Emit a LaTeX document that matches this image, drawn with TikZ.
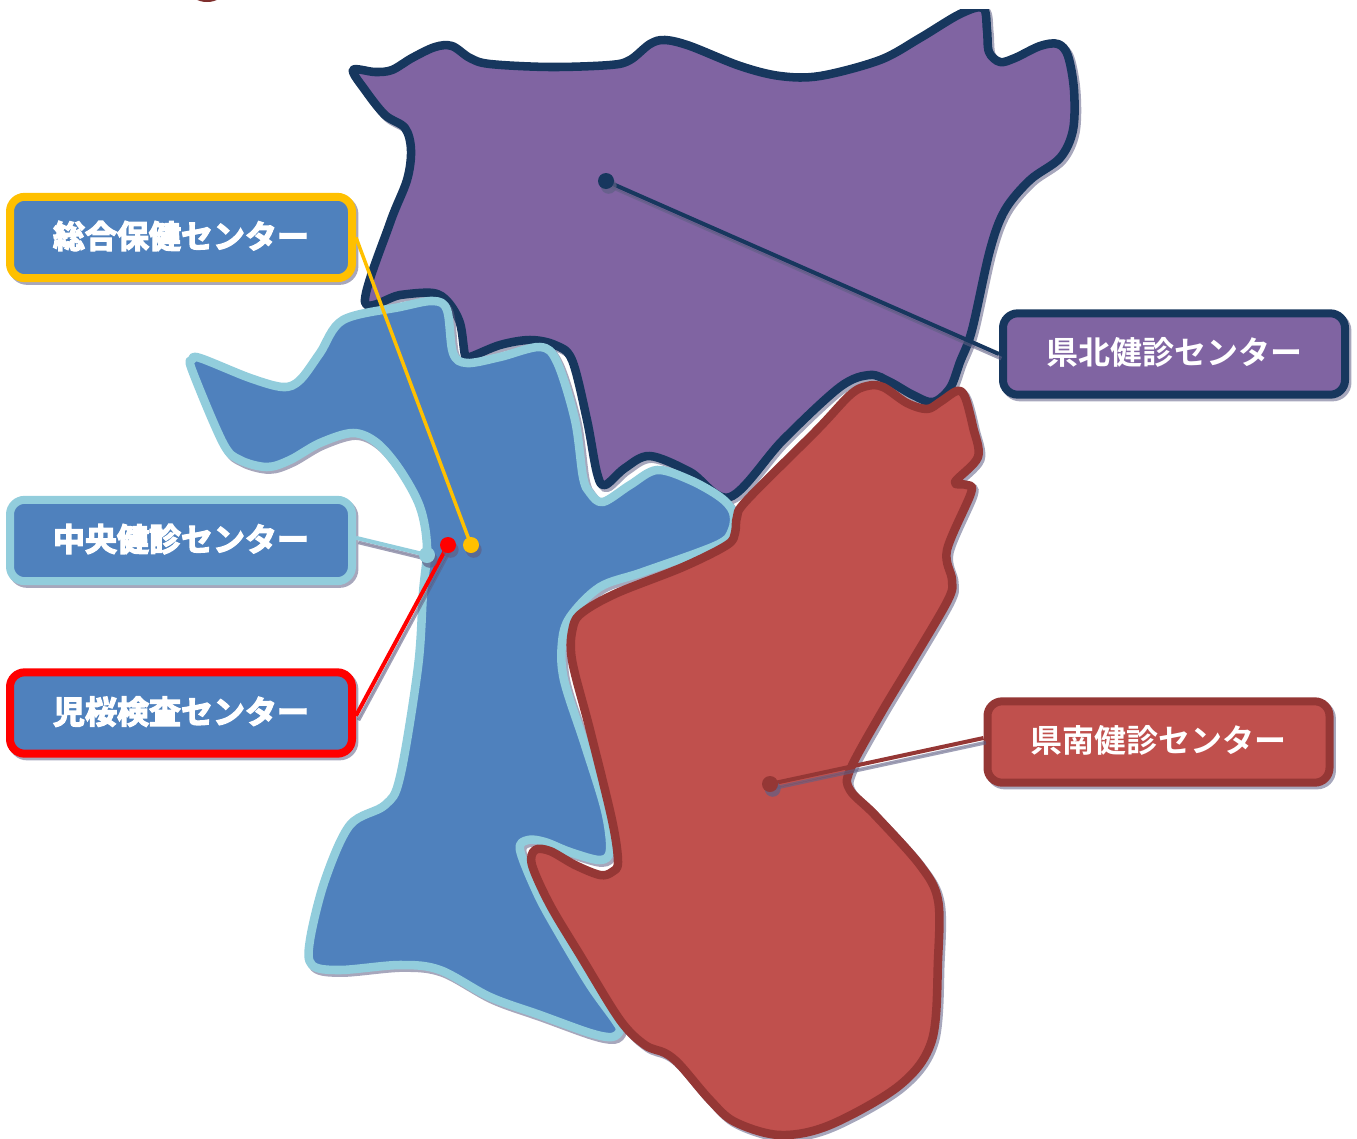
\documentclass[tikz,border=0pt]{standalone}
\usepackage{fontspec}
\usetikzlibrary{shadows}
\newfontfamily\cjkb{Noto Sans CJK JP Bold}
\newfontfamily\cjkh{Noto Sans CJK JP Bold}[FakeBold=4]
\newcommand{\boxtext}[1]{\raisebox{-8pt}[0pt][0pt]{#1}}
\definecolor{cPurple}{HTML}{8064A2}
\definecolor{cNavy}{HTML}{17375E}
\definecolor{cBlue}{HTML}{4F81BD}
\definecolor{cLight}{HTML}{92CDDC}
\definecolor{cGold}{HTML}{FFC000}
\definecolor{cRed}{HTML}{FF0000}
\definecolor{cBrick}{HTML}{C0504D}
\definecolor{cBrown}{HTML}{953735}
\definecolor{cShadow}{HTML}{5F5F85}
\tikzset{
  sh/.style={copy shadow={shadow xshift=1.8pt,shadow yshift=-2pt,draw=cShadow,fill=cShadow,opacity=.55,line width=#1}},
  shline/.style={copy shadow={shadow xshift=1.8pt,shadow yshift=-3.4pt,draw=cShadow,opacity=.6,line width=2.8pt}},
  region/.style={line width=6.4pt,line join=round,sh=6.4pt},
  labelbox/.style={rounded corners=11pt,line width=6pt,minimum width=256.5pt,minimum height=61pt,
    text=white,font=\cjkb\fontsize{24}{24}\selectfont,inner sep=0pt,sh=6pt},
  heavy/.style={font=\cjkh\fontsize{24}{24}\selectfont},
  dotmark/.style={circle,minimum size=12pt,inner sep=0pt,draw=none,
    copy shadow={shadow xshift=2pt,shadow yshift=-3.6pt,draw=none,fill=cShadow,opacity=.7}},
  conn/.style={line width=3pt,shline},
}
\begin{document}
\begin{tikzpicture}[x=0.75pt,y=-0.75pt]
\useasboundingbox (0,0) rectangle (1357,1139);
% remnant at the top edge
\begin{scope}
\clip (0,0) rectangle (1357,1139);
\fill[cBrown!85!black] (207,-9) ellipse (17 and 11);
\end{scope}
% regions
\begin{scope}
\clip (0,9) rectangle (1357,1139);
\path[region,draw=cNavy,fill=cPurple] plot[smooth cycle,tension=.55] coordinates {
(353,70)(375,72)(392,70)(412,58)(435,47)(452,46)(470,58)(490,64)(550,67)(610,65)(630,60)(650,44)(665,40)(690,46)(740,66)(780,76)(820,76)(880,60)(920,38)(960,14)(983,8)(987,30)(989,52)(1000,62)(1015,58)(1040,46)(1058,44)(1068,56)(1074,90)(1073,130)(1060,158)(1030,180)(1005,210)(990,250)(972,330)(960,362)(950,388)(933,402)(913,395)(890,382)(870,375)(840,387)(783,440)(730,497)(690,472)(650,456)(625,468)(605,485)(597,473)(587,420)(572,360)(555,345)(530,340)(500,345)(470,357)(465,355)(460,323)(448,302)(433,293)(400,295)(365,302)(390,223)(407,180)(411,150)(405,128)(385,115)(365,90)};
\end{scope}
\path[region,draw=cLight,fill=cBlue] plot[smooth cycle,tension=.55] coordinates {
(192,360)(200,358)(250,378)(283,387)(300,380)(320,353)(343,320)(400,307)(433,301)(447,310)(453,353)(467,363)(500,357)(540,347)(557,362)(575,420)(583,477)(590,493)(603,502)(630,485)(657,470)(690,480)(720,497)(733,512)(732,530)(717,545)(643,572)(600,587)(570,617)(562,643)(564,680)(585,745)(605,810)(610,850)(600,860)(570,852)(545,842)(528,840)(520,850)(538,895)(560,935)(590,985)(615,1020)(620,1030)(612,1037)(590,1033)(540,1015)(490,997)(440,970)(400,965)(340,970)(312,965)(310,940)(325,880)(350,825)(385,805)(400,777)(418,667)(423,593)(427,547)(420,507)(400,470)(377,443)(353,433)(320,443)(290,460)(267,467)(240,460)(223,443)(192,370)};
\path[region,draw=cBrown,fill=cBrick] plot[smooth cycle,tension=.55] coordinates {
(957,391)(965,397)(973,427)(978,457)(955,482)(967,485)(971,493)(947,550)(952,580)(948,600)(913,660)(880,715)(850,770)(850,790)(875,815)(920,865)(938,900)(938,960)(932,1040)(900,1085)(830,1125)(780,1135)(735,1122)(710,1100)(680,1065)(665,1053)(645,1045)(620,1020)(580,955)(550,905)(532,865)(535,850)(550,851)(575,865)(600,875)(612,872)(618,862)(612,820)(590,730)(572,660)(573,627)(583,612)(617,593)(683,567)(727,545)(735,533)(737,517)(747,500)(817,430)(850,395)(867,386)(883,387)(907,403)(927,409)(940,402)};
% label boxes
\node[labelbox,heavy,draw=cGold,fill=cBlue] (sogo) at (181,237.5) {\boxtext{総合保健センター}};
\node[labelbox,heavy,draw=cLight,fill=cBlue] (chuo) at (181,540.5) {\boxtext{中央健診センター}};
\node[labelbox,heavy,draw=cRed,fill=cBlue] (jio) at (181,713) {\boxtext{児桜検査センター}};
\node[labelbox,draw=cNavy,fill=cPurple] (north) at (1174,354) {\boxtext{県北健診センター}};
\node[labelbox,draw=cBrown,fill=cBrick] (south) at (1158.5,742) {\boxtext{県南健診センター}};
% connector free ends
\coordinate (pn) at (606,181);
\coordinate (ps) at (770,784);
\coordinate (pc) at (427,555);
\coordinate (pj) at (448,545);
\coordinate (pg) at (471,545);
% connectors
\draw[conn,draw=cNavy] (north.west) -- (pn);
\draw[conn,draw=cBrown] ([yshift=3pt]south.west) -- (ps);
\draw[conn,draw=cLight] ([yshift=2pt]chuo.east) -- (pc);
\draw[conn,draw=cRed] ([yshift=-2pt]jio.east) -- (pj);
\draw[line width=2.6pt,draw=cGold] (sogo.east) -- (pg);
% dots
\node[dotmark,fill=cNavy] (dn) at (pn) {};
\node[dotmark,fill=cBrown] (ds) at (ps) {};
\node[dotmark,fill=cLight] (dc) at (pc) {};
\node[dotmark,fill=cRed] (dj) at (pj) {};
\node[dotmark,fill=cGold] (dg) at (pg) {};
\end{tikzpicture}
\end{document}
